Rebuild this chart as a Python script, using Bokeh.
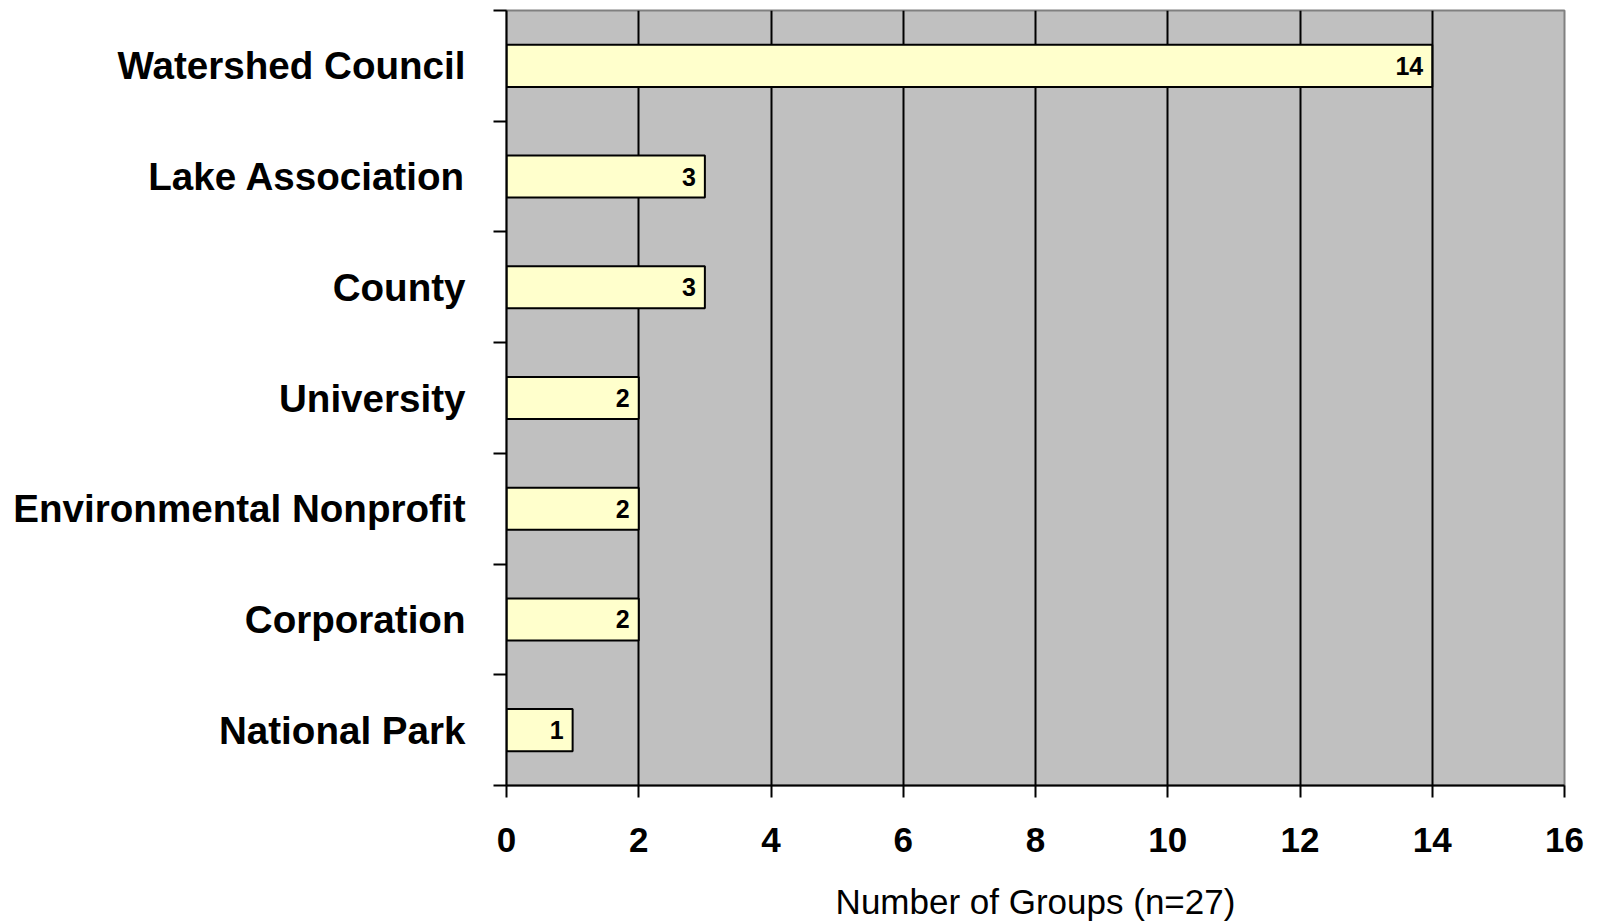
from bokeh.plotting import figure
from bokeh.models import FixedTicker, ColumnDataSource, Range1d
from bokeh.core.properties import value
from bokeh.embed import file_html
from bokeh.resources import INLINE

categories = ["Watershed Council", "Lake Association", "County", "University",
              "Environmental Nonprofit", "Corporation", "National Park"]
counts = [14, 3, 3, 2, 2, 2, 1]
x_ticks = [0, 2, 4, 6, 8, 10, 12, 14, 16]
x_title = "Number of Groups (n=27)"

n = len(categories)
ypos = [n - 0.5 - i for i in range(n)]
src = ColumnDataSource(dict(y=ypos, v=counts, lbl=[str(c) for c in counts], cat=categories))

FONT = "Liberation Sans"

p = figure(frame_width=1058, frame_height=775, output_backend="svg", toolbar_location=None,
           x_range=Range1d(0, 16), y_range=Range1d(0, n),
           min_border_left=506, min_border_right=26, min_border_top=10, min_border_bottom=120)

p.border_fill_color = "white"
p.background_fill_color = "#C0C0C0"
p.outline_line_color = "#808080"
p.outline_line_width = 2

p.hbar(y="y", right="v", left=0, height=0.38, source=src,
       fill_color="#FFFFCC", line_color="black", line_width=2)

p.text(x="v", y="y", text="lbl", source=src, x_offset=-9, text_align="right",
       text_baseline="middle", text_font=value(FONT), text_font_style="bold",
       text_font_size="25px", text_color="black")

# x axis
p.xaxis.ticker = FixedTicker(ticks=x_ticks)
p.xaxis.axis_label = x_title
p.xaxis.axis_label_text_font = FONT
p.xaxis.axis_label_text_font_style = "normal"
p.xaxis.axis_label_text_font_size = "35px"
p.xaxis.axis_label_text_color = "black"
p.xaxis.axis_label_standoff = 27
p.xaxis.major_label_text_font = FONT
p.xaxis.major_label_text_font_style = "bold"
p.xaxis.major_label_text_font_size = "35px"
p.xaxis.major_label_text_color = "black"
p.xaxis.major_label_standoff = 30
p.xaxis.major_tick_out = 12
p.xaxis.major_tick_in = 0
p.xaxis.minor_tick_out = 0
p.xaxis.minor_tick_in = 0
p.xaxis.major_tick_line_width = 2
p.xaxis.axis_line_width = 2
p.xaxis.axis_line_color = "black"

# y axis: labels at category centres, ticks at category boundaries
p.yaxis.ticker = FixedTicker(ticks=ypos, minor_ticks=list(range(n + 1)))
p.yaxis.major_label_overrides = {y: c for y, c in zip(ypos, categories)}
p.yaxis.major_label_text_font = FONT
p.yaxis.major_label_text_font_style = "bold"
p.yaxis.major_label_text_font_size = "38.6px"
p.yaxis.major_label_text_color = "black"
p.yaxis.major_label_standoff = 28
p.yaxis.major_tick_out = 0
p.yaxis.major_tick_in = 0
p.yaxis.minor_tick_out = 13
p.yaxis.minor_tick_in = 0
p.yaxis.minor_tick_line_width = 2
p.yaxis.minor_tick_line_color = "black"
p.yaxis.axis_line_width = 2
p.yaxis.axis_line_color = "black"

p.xgrid.ticker = FixedTicker(ticks=x_ticks)
p.xgrid.grid_line_color = "black"
p.xgrid.grid_line_width = 2
p.ygrid.grid_line_color = None

open("out.html", "w").write(file_html(p, INLINE))
